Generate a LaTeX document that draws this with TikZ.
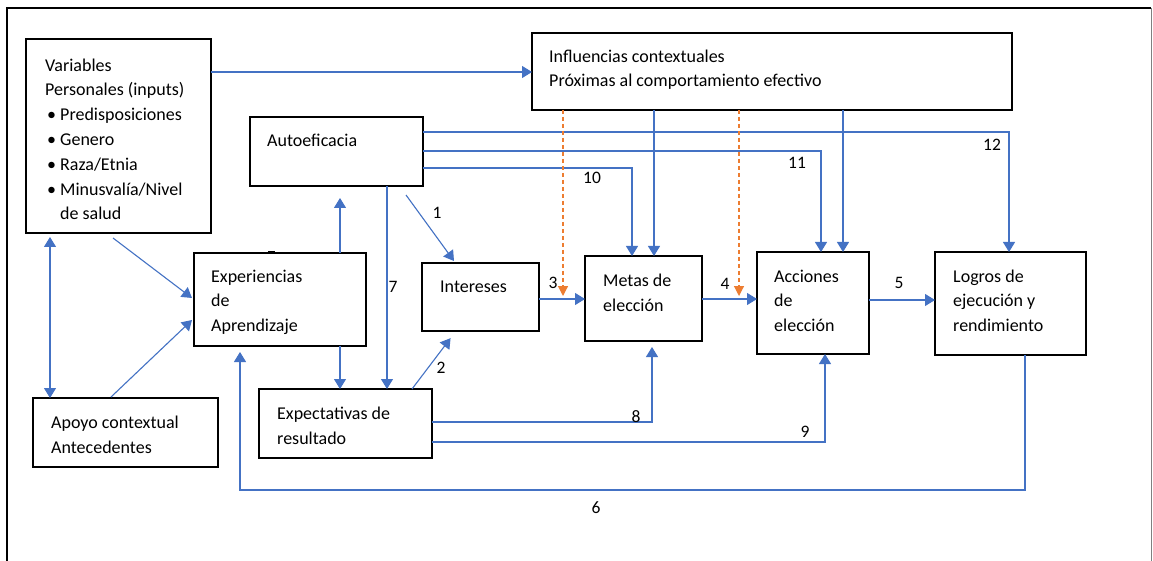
\documentclass[tikz,border=0pt]{standalone}
\usepackage{fontspec}
\setmainfont{Carlito}
\usetikzlibrary{arrows.meta,calc}
\definecolor{flow}{HTML}{4472C4}
\definecolor{ctx}{HTML}{ED7D31}
\begin{document}
\begin{tikzpicture}[x=1pt,y=-1pt,
  box/.style={draw=black,line width=1.8pt,inner sep=0pt,outer sep=0pt},
  txt/.style={font=\fontsize{18}{24.5}\selectfont,align=left,anchor=base west,inner sep=0pt},
  num/.style={font=\fontsize{17.5}{20}\selectfont,inner sep=0pt},
  arr/.style={draw=flow,line width=1.1pt,-{Triangle[width=12pt,length=10pt]}},
  both/.style={draw=flow,line width=1.1pt,{Triangle[width=12pt,length=10pt]}-{Triangle[width=12pt,length=10pt]}},
  ctxarr/.style={draw=ctx,line width=1.2pt,dash pattern=on 4pt off 3pt,-{Triangle[width=10pt,length=10pt]}}
]
\useasboundingbox (0,0) rectangle (1153,561);
\fill[white] (0,0) rectangle (1153,561);

% outer frame
\draw[line width=1.8pt] (7,561) -- (7,8) -- (1151,8);
\draw[gray,line width=0.8pt] (1151,8) -- (1151,561);

% boxes
\node[box,minimum width=185pt,minimum height=194pt] (var)    at (118.5,136)  {};
\node[box,minimum width=173pt,minimum height=69pt]  (auto)   at (336.5,151.5){};
\node[box,minimum width=480pt,minimum height=77pt]  (infl)   at (772,71.5)   {};
\node[box,minimum width=172pt,minimum height=93pt]  (exp)    at (280,299.5)  {};
\node[box,minimum width=117pt,minimum height=68pt]  (int)    at (480.5,297)  {};
\node[box,minimum width=117pt,minimum height=85pt]  (metas)  at (643.5,298.5){};
\node[box,minimum width=112pt,minimum height=102pt] (acc)    at (813,303)    {};
\node[box,minimum width=151pt,minimum height=103pt] (logros) at (1010.5,303.5){};
\node[box,minimum width=185pt,minimum height=69pt]  (apoyo)  at (125.5,432.5){};
\node[box,minimum width=173pt,minimum height=69pt]  (expec)  at (345.5,423.5){};
\fill (268,251) rectangle (275,254);

% box texts (each node is placed by the baseline of its last line)
\node[txt,font=\fontsize{18}{24.8}\selectfont] (varT) at (45,220) {Variables\\Personales (inputs)\\
  \makebox[15pt][l]{\hspace{2pt}•}Predisposiciones\\
  \makebox[15pt][l]{\hspace{2pt}•}Genero\\
  \makebox[15pt][l]{\hspace{2pt}•}Raza/Etnia\\
  \makebox[15pt][l]{\hspace{2pt}•}Minusvalía/Nivel\\
  \hspace*{15pt}de salud};
\node[txt] (autoT)   at (267,147) {Autoeficacia};
\node[txt] (inflT)   at (549,87)  {Influencias contextuales\\Próximas al comportamiento efectivo};
\node[txt] (expT)    at (211,331) {Experiencias\\de\\Aprendizaje};
\node[txt] (intT)    at (440,292) {Intereses};
\node[txt] (metasT)  at (603,311) {Metas de\\elección};
\node[txt] (accT)    at (774,331) {Acciones\\de\\elección};
\node[txt] (logrosT) at (953,331) {Logros de\\ejecución y\\rendimiento};
\node[txt] (apoyoT)  at (51,453)  {Apoyo contextual\\Antecedentes};
\node[txt] (expecT)  at (277,444) {Expectativas de\\resultado};

% connectors
\draw[arr] (var.east |- 0,72) -- (infl.west |- 0,72);
\draw[arr] (auto.east |- 0,132) -| (1009,0 |- logros.north);
\draw[arr] (auto.east |- 0,151) -| (821,0 |- acc.north);
\draw[arr] (auto.east |- 0,168) -| (632,0 |- metas.north);
\draw[arr] (654,0 |- infl.south) -- (654,0 |- metas.north);
\draw[arr] (843,0 |- infl.south) -- (843,0 |- acc.north);

\coordinate (g3) at (563,296);
\coordinate (g4) at (739,296);
\draw[ctxarr] (563,0 |- infl.south) -- (g3);
\draw[ctxarr] (739,0 |- infl.south) -- (g4);

\draw[arr] ($(auto.south)+(69.5,9)$) -- ($(int.north west)+(32,-2)$);
\draw[arr] (387,0 |- auto.south) -- (387,0 |- expec.north);
\draw[arr,shorten >=12pt] (340,0 |- exp.north) -- (340,0 |- auto.south);
\draw[arr] (340,0 |- exp.south) -- (340,0 |- expec.north);
\draw[arr,shorten >=9pt] (412,0 |- expec.north) -- (456,0 |- int.south);
\draw[arr,shorten >=6pt] (expec.east |- 0,422) -| (652,0 |- metas.south);
\draw[arr] (expec.east |- 0,442) -| (825,0 |- acc.south);
\draw[arr] (int.east |- 0,299) -- (metas.west |- 0,299);
\draw[arr] (metas.east |- 0,299) -- (acc.west |- 0,299);
\draw[arr] (acc.east |- 0,300) -- (logros.west |- 0,300);
\draw[arr,shorten >=6pt] (1025,0 |- logros.south) -- (1025,490) -| (240,0 |- exp.south);
\draw[arr] ($(var.south)+(-5.5,5)$) -- ($(exp.west)+(-2,-1.5)$);
\draw[arr] ($(apoyo.north)+(-14.5,-1)$) -- ($(exp.west)+(-2,20.5)$);
\draw[both,shorten <=4pt] (50,0 |- var.south) -- (50,0 |- apoyo.north);

% path numbers
\node[num] (n1)  at (437,213) {1};
\node[num] (n2)  at (441,368) {2};
\node[num] (n3)  at (553,283) {3};
\node[num] (n4)  at (725,284) {4};
\node[num] (n5)  at (899,283) {5};
\node[num] (n6)  at (596,508) {6};
\node[num] (n7)  at (393,287) {7};
\node[num] (n8)  at (636,417) {8};
\node[num] (n9)  at (805,432) {9};
\node[num] (n10) at (592,178) {10};
\node[num] (n11) at (797,163) {11};
\node[num] (n12) at (992,145) {12};
\end{tikzpicture}
\end{document}
